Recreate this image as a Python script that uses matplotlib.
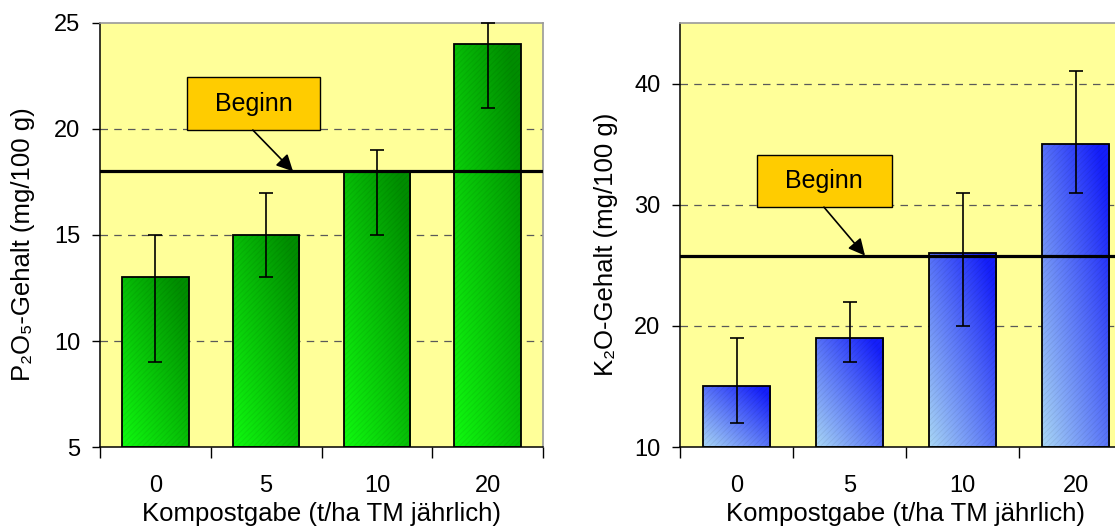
import numpy as np
import matplotlib as mpl
import matplotlib.pyplot as plt
from matplotlib.patches import Rectangle
from matplotlib.ticker import FixedLocator, NullFormatter

mpl.rcParams.update({
    "font.family": ["Liberation Sans", "DejaVu Sans"],
    "font.size": 17,
    "hatch.linewidth": 0.6,
})

# --------------------------------------------------------------------------- #
# data
# --------------------------------------------------------------------------- #
doses = ["0", "5", "10", "20"]
p2o5 = [13, 15, 18, 24]
p2o5_lo = [9, 13, 15, 21]
p2o5_hi = [15, 17, 19, 25]
p2o5_start = 18

k2o = [15, 19, 26, 35]
k2o_lo = [12, 17, 20, 31]
k2o_hi = [19, 22, 31, 41]
k2o_start = 25.8

BG = "#ffff99"
BOX = "#ffcc00"
GREEN = ((0.06, 0.98, 0.06), (0.0, 0.55, 0.0))
BLUE = ((0.66, 0.84, 0.96), (0.08, 0.12, 0.98))
FS = 17      # tick labels
LFS = 18.5   # axis labels


def gradient_bars(ax, vals, base, cols, width=0.6):
    light, dark = np.array(cols[0]), np.array(cols[1])
    n = 64
    u, v = np.meshgrid(np.linspace(0, 1, n), np.linspace(0, 1, n))
    t = np.clip(0.55 * u + 0.55 * v, 0, 1)[..., None]
    img = light * (1 - t) + dark * t
    bars = ax.bar(range(len(vals)), np.array(vals) - base, bottom=base, width=width,
                  facecolor="none", edgecolor="black", lw=1.3, zorder=4)
    for b in bars:
        x0, y0 = b.get_x(), b.get_y()
        w, h = b.get_width(), b.get_height()
        im = ax.imshow(img, extent=(x0, x0 + w, y0, y0 + h), origin="lower",
                       aspect="auto", zorder=2, interpolation="bilinear")
        clip = Rectangle((x0, y0), w, h, transform=ax.transData)
        im.set_clip_path(clip)
        ax.add_patch(Rectangle((x0, y0), w, h, fill=False, hatch="//////",
                               edgecolor=(0, 0, 0, 0.07), lw=0, zorder=3))


def panel(ax, vals, lo, hi, start, ylim, yticks, grid, ylabel, box, arrow):
    ax.set_facecolor(BG)
    gradient_bars(ax, vals, ylim[0], GREEN if ylabel.startswith("P") else BLUE)
    x = np.arange(len(vals))
    ax.errorbar(x, vals, yerr=[np.array(vals) - lo, np.array(hi) - vals], fmt="none",
                ecolor="black", elinewidth=1.2, capsize=5, capthick=1.2, zorder=6,
                clip_on=False)
    for g in grid:
        ax.axhline(g, color="0.35", lw=0.9, ls=(0, (6, 5)), zorder=1)
    ax.axhline(start, color="black", lw=2.3, zorder=5)

    # Beginn box + arrow
    bx, by, bw, bh = box
    ax.add_patch(Rectangle((bx, by), bw, bh, facecolor=BOX, edgecolor="black", lw=1, zorder=7))
    ax.text(bx + bw / 2, by + bh / 2, "Beginn", ha="center", va="center", fontsize=18, zorder=8)
    ax.annotate("", xy=(arrow[0], start), xytext=(arrow[1], by),
                arrowprops=dict(arrowstyle="-|>", mutation_scale=25, lw=1.2, color="black",
                                shrinkA=0, shrinkB=0), zorder=8)

    ax.set_xlim(-0.5, len(vals) - 0.5)
    ax.set_ylim(*ylim)
    ax.set_yticks(yticks)
    ax.xaxis.set_major_locator(FixedLocator(np.arange(len(vals) + 1) - 0.5))
    ax.xaxis.set_major_formatter(NullFormatter())
    ax.set_xticks(x, doses, minor=True)
    ax.tick_params(axis="x", which="major", length=8, width=1, direction="out")
    ax.tick_params(axis="x", which="minor", length=0, pad=20, labelsize=FS)
    ax.tick_params(axis="y", length=6, width=1, direction="out", pad=8, labelsize=FS)
    for s in ("top", "right"):
        ax.spines[s].set_color("0.6")
        ax.spines[s].set_linewidth(1.2)
    for s in ("left", "bottom"):
        ax.spines[s].set_linewidth(1.1)
    ax.set_xlabel("Kompostgabe (t/ha TM jährlich)", fontsize=LFS, labelpad=4)
    ax.set_ylabel(ylabel, fontsize=LFS)


fig = plt.figure(figsize=(11.15, 5.26), dpi=100)
ax1 = fig.add_axes([100 / 1115, 79 / 526, 443 / 1115, 424 / 526])
ax2 = fig.add_axes([680 / 1115, 79 / 526, 452 / 1115, 424 / 526])

panel(ax1, p2o5, p2o5_lo, p2o5_hi, p2o5_start, (5, 25), [5, 10, 15, 20, 25], [10, 15, 20],
      "P₂O₅-Gehalt (mg/100 g)", (0.286, 19.95, 1.2, 2.5), (1.243, 0.88))
panel(ax2, k2o, k2o_lo, k2o_hi, k2o_start, (10, 45), [10, 20, 30, 40], [20, 30, 40],
      "K₂O-Gehalt (mg/100 g)", (0.18, 29.8, 1.195, 4.3), (1.137, 0.774))
ax1.yaxis.set_label_coords(-0.146, 0.479)
ax2.yaxis.set_label_coords(-0.138, 0.479)

fig.savefig("out.png", dpi=100)
